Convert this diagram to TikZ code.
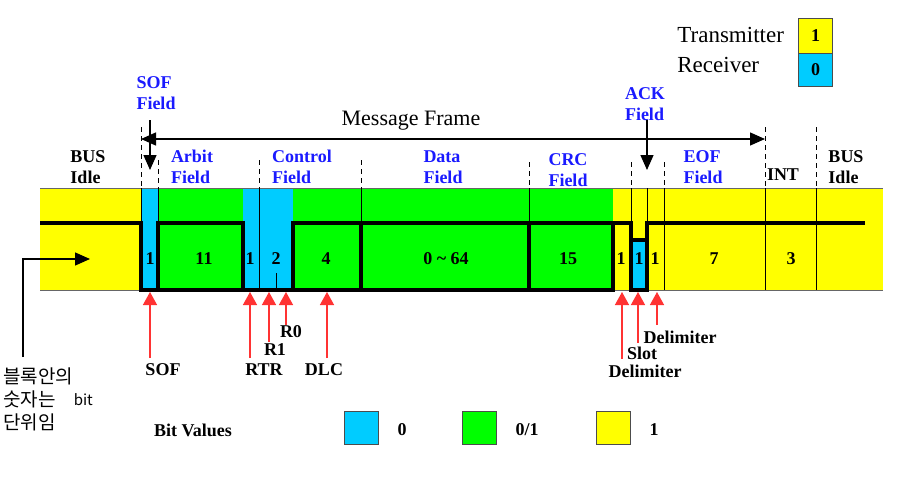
\documentclass[tikz,border=0pt]{standalone}
\usepackage{fontspec}
\setmainfont{Liberation Serif}
\newfontfamily\korfont{Noto Sans CJK KR}
\usepackage{xcolor}
\usepackage{tikz}
\usetikzlibrary{arrows}
\usetikzlibrary{arrows.meta}
\usetikzlibrary{positioning}
\tikzset{>=latex}
\definecolor{busyellow}{HTML}{FFFF00}
\definecolor{bitgreen}{HTML}{00FF00}
\definecolor{bitblue}{HTML}{00CCFF}
\definecolor{fieldblue}{HTML}{1A1AFF}
\definecolor{arrowred}{HTML}{FF3333}
\tikzstyle{fieldlbl} = [text = fieldblue, font = \bfseries\fontsize{9}{10.5}\selectfont, align = left, inner sep = 0]
\tikzstyle{blacklbl} = [fieldlbl, text = black]
\tikzstyle{bitnum} = [font = \bfseries\fontsize{9}{10.5}\selectfont, inner sep = 0]
\tikzstyle{ptrlbl} = [font = \bfseries\fontsize{9}{10}\selectfont, inner sep = 0]
\tikzstyle{redarr} = [-{Triangle[length = 6.5pt, width = 7pt]}, draw = arrowred, line width = 0.7pt]
\tikzstyle{blkarr} = [-{Triangle[length = 7.5pt, width = 6.5pt]}, draw = black, line width = 0.7pt]
\tikzstyle{signal} = [line width = 1.6pt, line join = miter]
\tikzstyle{fieldtick} = [dash pattern = on 2.5pt off 2pt, line width = 0.5pt]
\tikzstyle{keybox} = [draw = black!70, thin, minimum width = 17pt, minimum height = 16.5pt, inner sep = 0, font = \bfseries\fontsize{9}{10}\selectfont]

\begin{document}
\begin{tikzpicture}[x = 0.5pt, y = -0.5pt]
\useasboundingbox (0, 0) rectangle (901, 477);
% band colours
\fill [busyellow] (40, 188) rectangle (141, 290);
\fill [bitblue] (141, 188) rectangle (158, 290);
\fill [bitgreen] (158, 188) rectangle (243, 290);
\fill [bitblue] (243, 188) rectangle (293, 290);
\fill [bitgreen] (293, 188) rectangle (613, 290);
\fill [busyellow] (613, 188) rectangle (883, 290);
\draw [black!60, thin] (40, 188) -- (883, 188);
\draw [black!60, thin] (40, 290) -- (883, 290);
% field boundaries
\foreach \x/\y in {141/127, 765/127, 816/127, 158/160, 259/160, 361/160, 529/162, 631/162, 664/162}
  \draw [fieldtick] (\x, \y) -- (\x, 188);
\foreach \x in {141, 158, 361, 529, 631, 647}
  \draw [thin] (\x, 188) -- (\x, 223);
\foreach \x in {259, 664, 765, 816}
  \draw [thin] (\x, 188) -- (\x, 290);
\draw [thin] (276, 273) -- (276, 290);
% bit stream
\draw [signal] (40, 223) -- (141, 223) -- (141, 290) -- (613, 290);
\foreach \a/\b in {158/243, 293/361, 361/529, 529/613}
  \draw [signal] (\a, 223) rectangle (\b, 290);
\draw [signal, fill = bitblue] (631, 240) rectangle (647, 290);
\draw [signal] (613, 223) -- (631, 223) -- (631, 240);
\draw [signal] (647, 240) -- (647, 223) -- (865, 223);
\foreach \x/\t [count = \i] in {150/1, 204/11, 250/1, 276/2, 326/4, 446/{0 \textasciitilde{} 64}, 568/15, 621/1, 639/1, 655/1, 714/7, 791/3}
  \node [bitnum] (b\i) at (\x, 259) {\t};

% field names
\node [blacklbl] (idleL) at (88, 167) {BUS\\Idle};
\node [fieldlbl] (sofF) at (156, 93) {SOF\\Field};
\node [fieldlbl] (arbF) at (192, 167) {Arbit\\Field};
\node [fieldlbl] (ctlF) at (302, 167) {Control\\Field};
\node [fieldlbl] (datF) at (443, 167) {Data\\Field};
\node [fieldlbl] (crcF) at (568, 170) {CRC\\Field};
\node [fieldlbl] (ackF) at (645, 104) {ACK\\Field};
\node [fieldlbl] (eofF) at (703, 167) {EOF\\Field};
\node [blacklbl] (intL) at (783, 175) {INT};
\node [blacklbl] (idleR) at (846, 167) {BUS\\Idle};

% message frame
\node [font = \fontsize{11}{12}\selectfont, inner sep = 0] (msgF) at (411, 121) {Message Frame};
\coordinate (mfL) at (141, 139);
\coordinate (mfR) at (765, 139);
\draw [{Triangle[length = 7.5pt, width = 6.5pt]}-{Triangle[length = 7.5pt, width = 6.5pt]}, line width = 0.7pt] (mfL) -- (mfR);
\coordinate (sofTop) at (150, 120);
\coordinate (sofTip) at (150, 170);
\draw [blkarr] (sofTop) -- (sofTip);
\coordinate (ackTop) at (647, 120);
\coordinate (ackTip) at (647, 170);
\draw [blkarr] (ackTop) -- (ackTip);

% note
\node [font = {\korfont\fontsize{9.5}{11.5}\selectfont}, align = left, inner sep = 0, anchor = north west] (note) at (3, 367) {블록안의\\숫자는\hspace{9pt}\raisebox{0.5pt}{\fontsize{7.5}{8}\selectfont bit}\\단위임};
\coordinate (noteEnd) at (23, 357);
\coordinate (idleTip) at (90, 259);
\draw [blkarr] (noteEnd) |- (idleTip);

% pointers
\foreach \x/\y/\n in {150/358/sof, 250/358/rtr, 269/342/ra, 286/325/rb, 327/358/dlc, 622/359/crcd, 638/343/slot, 657/325/ackd}
{
  \coordinate (t\n) at (\x, \y);
  \coordinate (h\n) at (\x, 292);
  \draw [redarr] (t\n) -- (h\n);
}
\node [ptrlbl] (lSOF) at (163, 370) {SOF};
\node [ptrlbl] (lRTR) at (264, 370) {RTR};
\node [ptrlbl] (lR1) at (275, 350) {R1};
\node [ptrlbl] (lR0) at (291, 332) {R0};
\node [ptrlbl] (lDLC) at (324, 370) {DLC};
\node [ptrlbl] (lDelC) at (645, 371) {Delimiter};
\node [ptrlbl] (lSlot) at (642, 353) {Slot};
\node [ptrlbl] (lDelA) at (680, 337) {Delimiter};

% legends
\node [blacklbl] (bitV) at (193, 430) {Bit Values};
\node [keybox, fill = bitblue] (k0) at (361, 427.5) {};
\node [bitnum] (k0t) at (402, 430) {0};
\node [keybox, fill = bitgreen] (k01) at (479, 427.5) {};
\node [bitnum] (k01t) at (527, 430) {0/1};
\node [keybox, fill = busyellow] (k1) at (613.5, 427.5) {};
\node [bitnum] (k1t) at (654, 430) {1};
\node [font = \fontsize{11.5}{12}\selectfont, anchor = west, inner sep = 0] (txL) at (677, 35) {Transmitter};
\node [font = \fontsize{11.5}{12}\selectfont, anchor = west, inner sep = 0] (rxL) at (677, 65) {Receiver};
\node [keybox, fill = busyellow, minimum height = 17.5pt] (txB) at (815.5, 35.5) {1};
\node [keybox, fill = bitblue] (rxB) at (815.5, 70) {0};
\end{tikzpicture}
\end{document}
